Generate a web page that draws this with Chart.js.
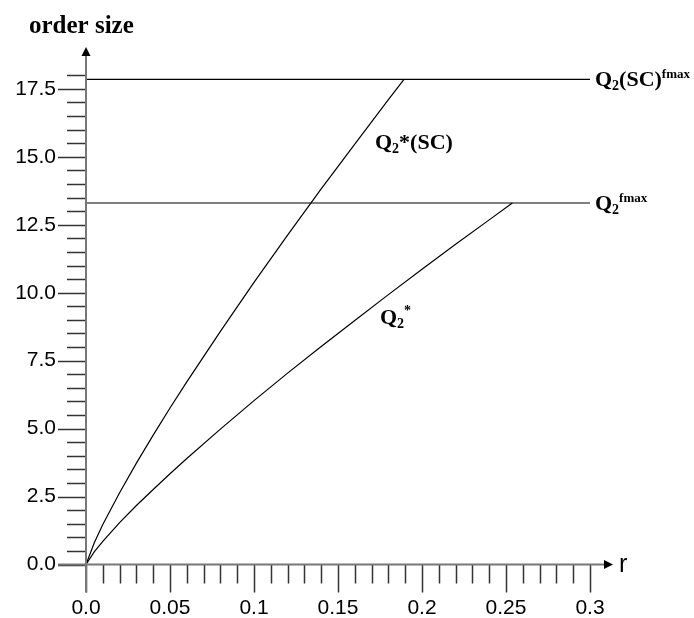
<!DOCTYPE html>
<html>
<head>
<meta charset="utf-8">
<script src="https://cdn.jsdelivr.net/npm/chart.js@4/dist/chart.umd.min.js"></script>
<style>
  html, body { margin: 0; padding: 0; background: #fff; }
  #wrap { width: 694px; height: 618px; position: relative; }
</style>
</head>
<body>
<div id="wrap"><canvas id="c"></canvas></div>
<script>
// ---- data ----
const rSC      = [0, 0.005, 0.01, 0.02, 0.03, 0.04, 0.05, 0.06, 0.08, 0.10, 0.12, 0.14, 0.16, 0.18, 0.1893];
const q2StarSC = [0, 0.81, 1.47, 2.64, 3.73, 4.76, 5.76, 6.72, 8.58, 10.38, 12.12, 13.82, 15.47, 17.10, 17.85];
const rStar    = [0, 0.005, 0.01, 0.02, 0.03, 0.04, 0.05, 0.06, 0.08, 0.10, 0.12, 0.14, 0.16, 0.18, 0.20, 0.22, 0.24, 0.2538];
const q2Star   = [0, 0.47, 0.85, 1.54, 2.17, 2.76, 3.34, 3.90, 4.98, 6.03, 7.04, 8.02, 8.98, 9.93, 10.86, 11.78, 12.68, 13.3];
const capRange = [0, 0.3];
const q2SCfmax = 17.85;
const q2fmax = 13.3;
const yTickLabels = ['0.0', '2.5', '5.0', '7.5', '10.0', '12.5', '15.0', '17.5'];
const xTickLabels = ['0.0', '0.05', '0.1', '0.15', '0.2', '0.25', '0.3'];
const xMax = 0.3137, yMax = 19.04;

const toPts = (xs, ys) => xs.map((x, i) => ({ x: x, y: ys[i] }));

const SERIF = '"Liberation Serif", "Times New Roman", serif';
const SANS = '"Liberation Sans", Arial, Helvetica, sans-serif';

function rich(ctx, x, baseline, parts) {
  let cx = x;
  parts.forEach(p => {
    ctx.font = 'bold ' + p.size + 'px ' + SERIF;
    ctx.fillText(p.t, cx, baseline + (p.dy || 0));
    cx += ctx.measureText(p.t).width;
  });
}

const deco = {
  id: 'deco',
  afterDraw(chart) {
    const ctx = chart.ctx;
    const xs = chart.scales.x, ys = chart.scales.y;
    const x0 = xs.getPixelForValue(0), y0 = ys.getPixelForValue(0);
    const ca = chart.chartArea;
    ctx.save();
    // ticks
    ctx.strokeStyle = '#333';
    ctx.lineWidth = 1.5;
    for (let i = 0; i <= 36; i++) {
      const v = i * 0.5;
      const py = Math.round(ys.getPixelForValue(v)) + 0.5;
      const major = i % 5 === 0;
      ctx.beginPath();
      ctx.moveTo(x0 - (major ? 28 : 19), py);
      ctx.lineTo(x0, py);
      ctx.stroke();
    }
    for (let i = 0; i <= 30; i++) {
      const v = i * 0.01;
      const px = Math.round(xs.getPixelForValue(v)) + 0.5;
      const major = i % 5 === 0;
      ctx.beginPath();
      ctx.moveTo(px, y0);
      ctx.lineTo(px, y0 + (major ? 28 : 19));
      ctx.stroke();
    }
    // axes
    ctx.strokeStyle = '#777';
    ctx.lineWidth = 2;
    ctx.beginPath();
    ctx.moveTo(x0, y0 + 28);
    ctx.lineTo(x0, ca.top + 8);
    ctx.stroke();
    ctx.beginPath();
    ctx.moveTo(x0 - 28, y0);
    ctx.lineTo(ca.right - 8, y0);
    ctx.stroke();
    // arrowheads
    ctx.fillStyle = '#000';
    ctx.beginPath();
    ctx.moveTo(x0, ca.top);
    ctx.lineTo(x0 - 4.5, ca.top + 9);
    ctx.lineTo(x0 + 4.5, ca.top + 9);
    ctx.closePath();
    ctx.fill();
    ctx.beginPath();
    ctx.moveTo(ca.right, y0);
    ctx.lineTo(ca.right - 9, y0 - 4.5);
    ctx.lineTo(ca.right - 9, y0 + 4.5);
    ctx.closePath();
    ctx.fill();
    // axis titles
    ctx.fillStyle = '#000';
    ctx.textAlign = 'left';
    ctx.textBaseline = 'alphabetic';
    ctx.font = 'bold 25px ' + SERIF;
    ctx.fillText('order size', 29, 33);
    ctx.font = '25px ' + SANS;
    ctx.fillText('r', ca.right + 6, y0 + 7);
    // curve labels
    const lx = xs.getPixelForValue(capRange[1]) + 5;
    rich(ctx, lx, ys.getPixelForValue(q2SCfmax) + 7, [
      { t: 'Q', size: 22 }, { t: '2', size: 14, dy: 4 }, { t: '(SC)', size: 22 }, { t: 'fmax', size: 13, dy: -8 }
    ]);
    rich(ctx, lx, ys.getPixelForValue(q2fmax) + 7, [
      { t: 'Q', size: 22 }, { t: '2', size: 14, dy: 4 }, { t: 'fmax', size: 13, dy: -8 }
    ]);
    rich(ctx, xs.getPixelForValue(0.172), ys.getPixelForValue(15.3), [
      { t: 'Q', size: 22 }, { t: '2', size: 14, dy: 4 }, { t: '*(SC)', size: 22 }
    ]);
    rich(ctx, xs.getPixelForValue(0.175), ys.getPixelForValue(8.85), [
      { t: 'Q', size: 22 }, { t: '2', size: 14, dy: 4 }, { t: '*', size: 14, dy: -9 }
    ]);
    ctx.restore();
  }
};

const lineDs = (data) => ({
  data: data, showLine: true, pointRadius: 0, borderColor: '#000', borderWidth: 1.2,
  fill: false, tension: 0
});

new Chart(document.getElementById('c'), {
  type: 'scatter',
  data: {
    datasets: [
      lineDs(toPts(rSC, q2StarSC)),
      lineDs(toPts(rStar, q2Star)),
      lineDs(toPts(capRange, [q2SCfmax, q2SCfmax])),
      lineDs(toPts(capRange, [q2fmax, q2fmax]))
    ]
  },
  options: {
    responsive: true,
    maintainAspectRatio: false,
    animation: false,
    layout: { padding: { top: 47, right: 81, left: 0, bottom: 0 } },
    plugins: { legend: { display: false }, tooltip: { enabled: false } },
    scales: {
      x: {
        type: 'linear', min: 0, max: xMax,
        grid: { display: false, drawTicks: false },
        border: { display: false },
        afterFit: (s) => { s.height = 53.5; },
        afterBuildTicks: (s) => { s.ticks = xTickLabels.map((l, i) => ({ value: i * 0.05, label: l })); },
        ticks: {
          autoSkip: false, maxRotation: 0, padding: 31, color: '#000',
          font: { family: SANS, size: 21 },
          callback: (v, i) => xTickLabels[i]
        }
      },
      y: {
        type: 'linear', min: 0, max: yMax,
        grid: { display: false, drawTicks: false },
        border: { display: false },
        afterFit: (s) => { s.width = 86; },
        afterBuildTicks: (s) => { s.ticks = yTickLabels.map((l, i) => ({ value: i * 2.5, label: l })); },
        ticks: {
          autoSkip: false, padding: 30, color: '#000',
          font: { family: SANS, size: 21 },
          callback: (v, i) => yTickLabels[i]
        }
      }
    }
  },
  plugins: [deco]
});
</script>
</body>
</html>
